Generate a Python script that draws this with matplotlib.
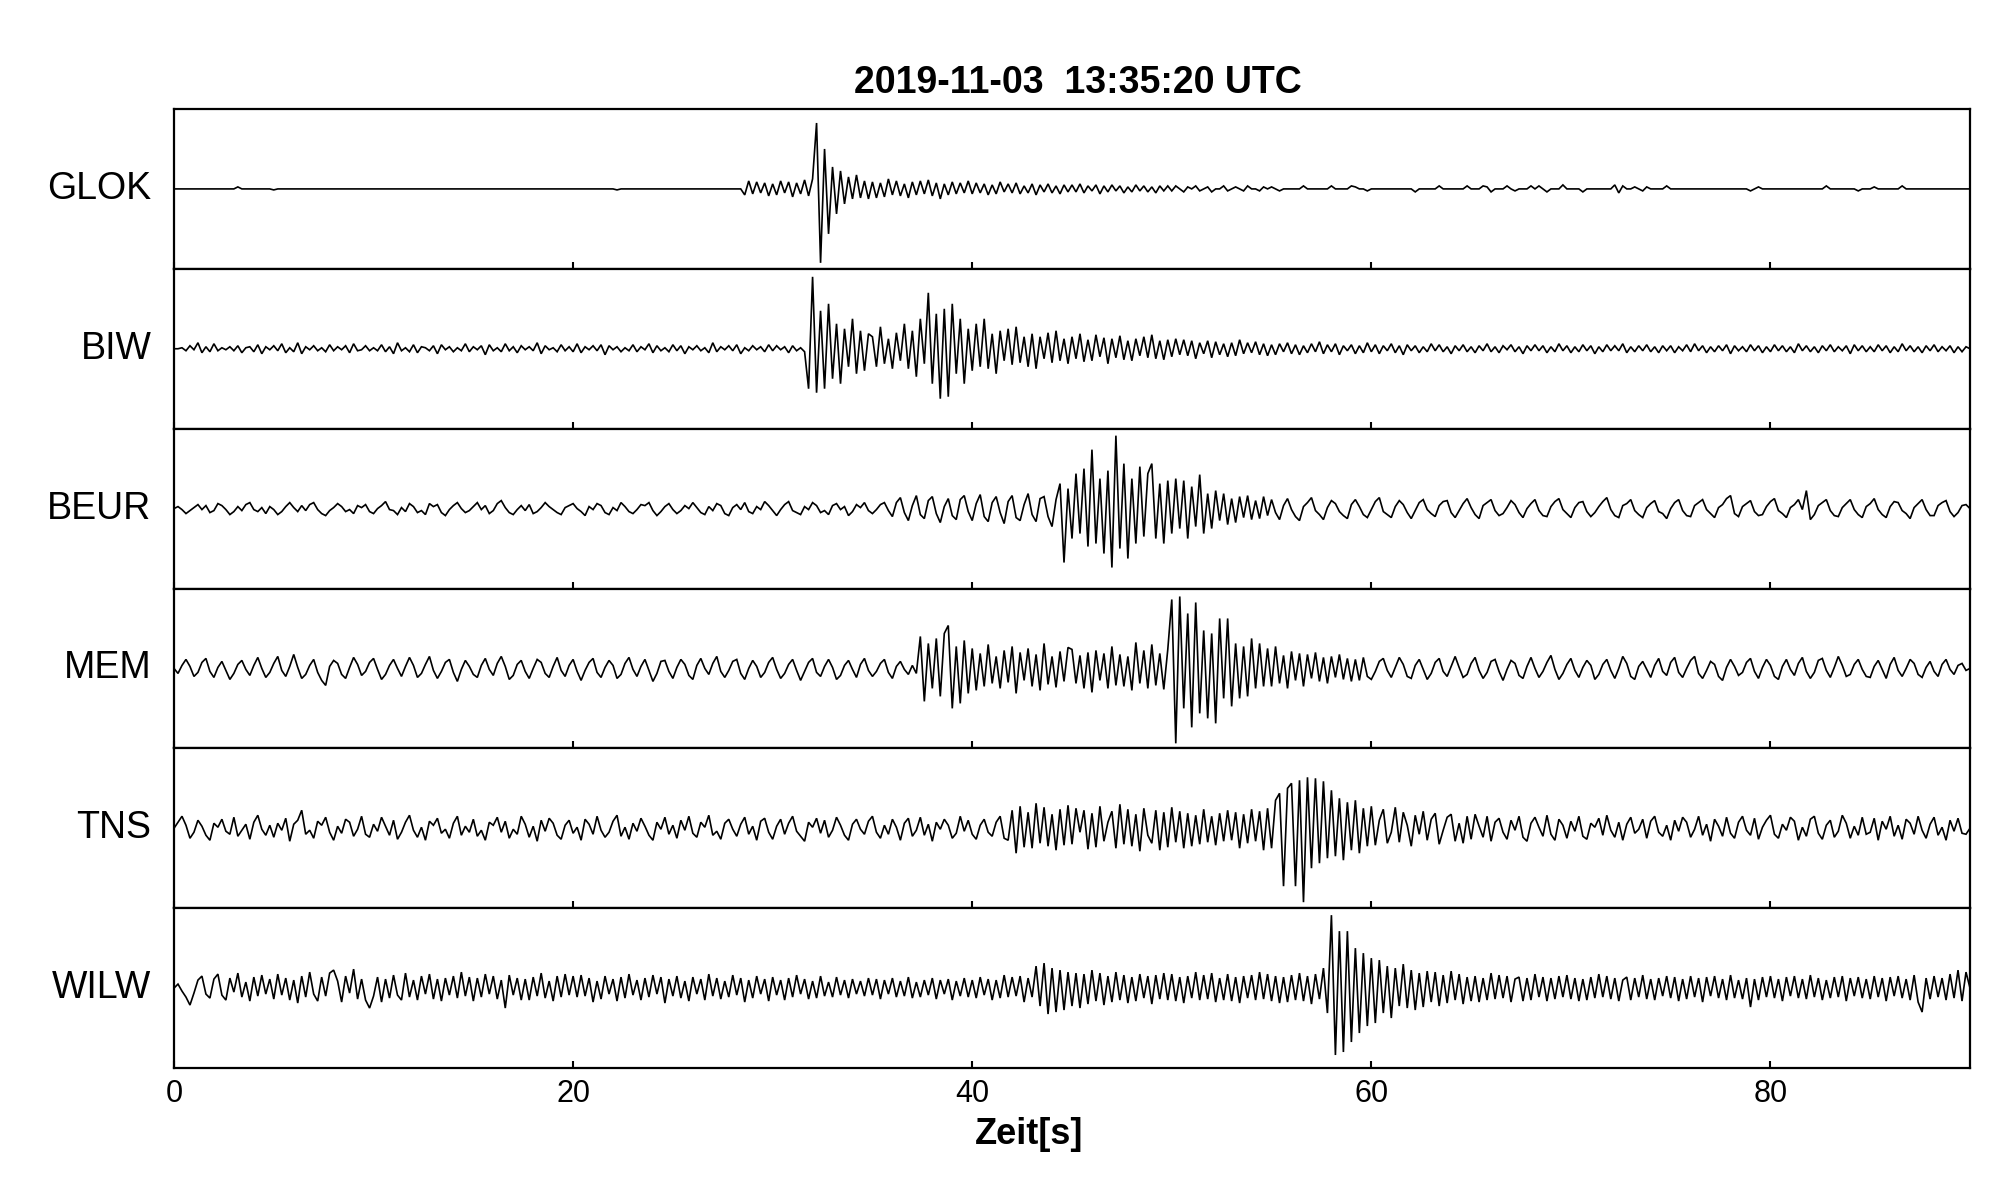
import numpy as np
import matplotlib
matplotlib.use("Agg")
import matplotlib.pyplot as plt

plt.rcParams['font.family'] = ['Liberation Sans', 'DejaVu Sans']

# ---------------- data (amplitudes, 5 samples/s) -------------
title = "2019-11-03  13:35:20 UTC"
xlabel = "Zeit[s]"
stations = ["GLOK", "BIW", "BEUR", "MEM", "TNS", "WILW"]
xticks = [0, 20, 40, 60, 80]
duration = 90.0

GLOK = [
    0,0,0,0,0,0,0,0,0,0,0,0,0,0,0,0,2,0,0,0,0,0,0,0,0,
    -1,0,0,0,0,0,0,0,0,0,0,0,0,0,0,0,0,0,0,0,0,0,0,0,0,
    0,0,0,0,0,0,0,0,0,0,0,0,0,0,0,0,0,0,0,0,0,0,0,0,0,
    0,0,0,0,0,0,0,0,0,0,0,0,0,0,0,0,0,0,0,0,0,0,0,0,0,
    0,0,0,0,0,0,0,0,0,0,0,-1,0,0,0,0,0,0,0,0,0,0,0,0,0,
    0,0,0,0,0,0,0,0,0,0,0,0,0,0,0,0,0,0,-6,8,-5,7,-4,6,-7,
    5,-6,8,-4,7,-8,6,-5,9,-7,10,66,-74,40,-45,22,-25,18,-15,12,-10,14,-9,8,-10,
    7,-9,6,-8,10,-6,8,-7,5,-9,7,-6,8,-5,9,-7,6,-10,5,-6,7,-5,6,-4,8,
    -5,6,-4,5,-6,4,-5,7,-3,5,-4,6,-5,3,-4,5,-6,4,-3,5,-4,3,-5,4,-3,
    4,-3,5,-4,3,-2,4,-5,3,-3,4,-2,3,-4,2,-3,4,-2,3,-3,2,-4,3,-2,3,
    -2,3,0,-3,2,0,3,-2,0,2,-3,0,0,3,-2,0,2,0,-2,3,0,0,-2,2,0,
    2,0,-2,0,0,0,0,0,3,0,0,0,0,0,0,3,0,0,0,0,3,2,0,0,-2,
    0,0,0,0,0,0,0,0,0,0,0,-3,0,0,0,0,0,3,0,0,0,0,0,0,3,
    0,0,0,3,2,-3,0,0,0,3,0,-2,0,0,0,3,0,3,0,-3,0,0,0,4,0,
    0,0,0,-3,0,0,0,0,0,0,0,4,-4,3,0,0,2,0,-2,2,0,0,0,0,3,
    0,0,0,0,0,0,0,0,0,0,0,0,0,0,0,0,0,0,0,0,-2,0,2,0,0,
    0,0,0,0,0,0,0,0,0,0,0,0,0,0,3,0,0,0,0,0,0,0,-2,0,0,
    0,2,0,0,0,0,0,0,3,0,0,0,0,0,0,0,0,0,0,0,0,0,0,0,0,
    0,
]

BIW = [
    0,0,1,-2,3,-1,6,-4,2,-3,5,-2,1,-1,2,-2,3,-4,1,2,-3,4,-5,2,-1,
    3,-2,5,-4,1,-3,6,-5,2,-1,3,-2,1,-3,4,-2,2,-1,3,-4,5,-2,-1,3,-2,
    1,-2,4,-3,2,-5,6,-2,1,-3,4,-4,2,1,-2,3,-5,4,-1,2,-3,1,-2,5,-3,
    2,-1,3,-6,4,-2,1,-3,5,-2,2,-4,3,-1,2,-2,6,-5,3,-1,1,-3,4,-2,2,
    -3,5,-4,2,-1,3,-2,4,-6,3,-1,2,-3,1,-2,4,-3,2,-1,5,-4,3,-2,1,-3,
    4,-2,3,-5,2,-1,3,-2,1,-4,6,-3,2,-1,3,-2,4,-5,1,-2,3,-1,2,-3,4,
    -2,3,-1,2,-4,3,-2,1,-3,-40,72,-44,38,-40,45,-30,25,-35,20,-18,30,-25,18,-22,15,
    12,-18,22,-15,10,-20,16,-12,25,-20,18,-28,30,-15,56,-35,35,-50,40,-48,45,-25,30,-35,20,
    -22,25,-18,30,-20,15,-25,18,-12,20,-16,22,-14,12,-18,15,-20,12,-10,16,-14,18,-12,10,-15,
    12,-10,15,-13,9,-12,14,-8,11,-15,10,-9,13,-11,8,-12,10,-7,12,-9,14,-10,8,-11,9,
    -8,10,-6,9,-7,8,-10,6,-5,8,-9,7,-6,5,-8,6,-7,9,-5,6,-4,7,-6,5,-7,
    4,-6,5,-3,6,-5,4,-6,3,-4,5,-3,7,-5,4,-3,5,-6,3,-2,4,-5,3,-4,6,
    -3,4,-5,3,-2,5,-4,3,-6,4,-2,3,-4,2,-3,5,-2,4,-3,2,-5,3,-2,4,-3,
    2,-4,3,-2,5,-3,2,-4,3,-1,4,-3,2,-5,3,-2,4,-2,3,-4,2,-3,5,-2,3,
    -4,2,-3,4,-2,3,-5,2,-3,4,-2,3,-2,5,-4,2,-3,3,-2,4,-3,2,-4,3,-2,
    3,-4,2,-2,4,-3,5,-2,3,-4,2,-3,3,-2,4,-5,3,-2,2,-3,4,-2,3,-4,2,
    -3,4,-2,3,-3,2,-4,5,-2,3,-3,2,-4,3,-2,4,-3,2,-2,3,-5,4,-2,3,-3,
    2,-3,4,-2,3,-4,2,-3,5,-2,3,-3,2,-4,3,-2,4,-3,2,-2,3,-4,2,-3,2,
    0,
]

BEUR = [
    0,2,-1,-5,-2,1,4,-1,3,-4,-2,5,3,-1,-6,-3,2,-2,4,6,-1,-3,1,-5,2,
    -1,-6,-3,2,6,1,-3,3,-2,4,6,-1,-5,-7,-2,1,5,2,-3,-1,-5,3,1,4,-3,
    -5,0,3,7,-1,-2,-6,1,-3,5,2,-4,-2,-6,5,2,4,-4,-7,-1,3,6,0,-4,-2,
    2,6,-1,3,-5,-2,5,8,1,-4,-6,-1,3,-2,4,-5,-3,1,6,2,-1,-4,-6,1,3,
    5,0,-3,-7,2,-1,5,3,-4,-6,1,-2,6,2,-3,-5,-1,4,3,6,-2,-7,-3,2,5,
    -1,-5,-2,3,0,6,1,-4,-6,2,-2,5,3,-5,-7,1,4,-1,6,-3,-5,2,-1,7,3,
    -2,-7,-1,4,7,-2,-4,-6,2,-1,6,3,-4,-2,-6,3,5,-1,2,-7,-3,4,1,6,-2,
    -5,-1,4,6,-2,-8,6,11,-4,-12,3,13,-6,-10,8,12,-5,-14,2,10,-7,-11,9,13,-3,
    -12,5,14,-8,-13,6,12,-4,-15,7,13,-9,-12,4,15,-6,-13,10,12,-8,-18,9,25,-54,20,
    -30,35,-25,40,-38,59,-35,30,-45,38,-59,73,-40,45,-50,30,-35,42,-28,35,45,-30,25,-35,28,
    -25,30,-20,28,-30,22,-18,34,-25,15,-20,18,-12,15,-16,10,-14,12,-9,13,-11,8,-10,12,-7,
    9,-4,-11,3,10,-1,-8,-12,2,6,11,-2,-6,-11,1,8,5,-3,-7,-10,4,9,2,-6,-9,
    -1,7,11,-3,-6,-9,2,8,4,-4,-10,-2,6,9,-1,-5,-8,3,7,8,-4,-9,-2,5,10,
    1,-6,-10,3,6,9,-2,-7,-5,1,8,4,-4,-9,0,5,9,-2,-7,-8,2,7,10,-1,-5,
    -9,1,6,7,-3,-8,-4,2,7,11,-1,-7,-9,3,5,9,-2,-6,-9,1,5,8,-3,-5,-10,
    0,6,9,-2,-7,-8,3,6,9,-1,-5,-9,1,4,10,13,-5,-8,2,5,8,-3,-7,-6,2,
    7,10,-2,-5,-9,1,4,9,-1,18,-11,-6,3,6,9,-2,-7,-8,1,5,9,-1,-6,-9,2,
    5,10,-1,-6,-9,2,7,6,-2,-5,-10,1,5,9,-1,-7,-7,3,6,8,-3,-8,-4,3,4,
    0,
]

MEM = [
    0,-5,3,9,2,-8,-4,6,10,-3,-9,1,7,-2,-11,-5,4,8,-1,-7,3,11,0,-9,-4,
    5,12,-2,-8,2,14,1,-10,-6,3,9,-4,-12,-17,2,8,5,-6,-10,1,11,4,-7,-3,6,
    10,-1,-11,-6,3,9,0,-8,2,11,3,-9,-5,4,12,-2,-10,-3,6,9,-4,-13,-1,8,2,
    -6,-9,3,10,-1,-7,5,12,2,-11,-7,4,8,-3,-10,0,9,6,-5,-9,2,11,-2,-8,3,
    9,-3,-12,-2,6,10,-4,-9,1,8,3,-10,-6,5,11,-1,-8,2,9,-2,-13,-5,7,8,-3,
    -10,1,9,4,-7,-11,3,10,0,-6,5,12,-3,-9,-2,7,9,-5,-11,0,8,2,-9,-4,6,
    11,-1,-10,-5,4,9,-2,-12,-3,6,10,-4,-8,2,9,1,-11,-7,3,8,-1,-9,4,10,-2,
    -8,-3,5,9,-4,-10,2,7,-1,-6,3,-5,32,-33,25,-20,30,-28,35,43,-40,22,-35,28,-25,
    20,-22,15,-18,24,-15,12,-20,18,-14,22,-25,16,-12,20,-18,14,-22,25,-16,12,-19,17,-13,21,
    19,-15,13,-20,16,-24,18,-12,15,-20,22,-17,14,-18,12,-22,26,-15,18,-20,24,-17,15,-21,19,
    69,-75,72,-40,55,-59,66,-45,38,-50,35,-55,50,-30,50,-38,25,-30,22,-28,30,-20,25,-18,20,
    -18,22,-15,13,-20,17,-12,15,-18,14,-10,16,-13,11,-15,12,-9,14,-11,10,-13,9,-12,11,-8,
    -11,-3,7,10,-2,-9,1,11,4,-8,-10,3,9,-1,-11,-5,6,10,-3,-8,2,12,1,-9,-6,
    5,11,-2,-10,-4,7,9,-3,-12,-1,8,5,-7,-10,2,11,0,-9,-3,6,13,-1,-11,-5,4,
    10,-2,-9,1,8,3,-11,-6,4,9,-2,-10,0,12,5,-8,-11,2,7,-1,-9,3,10,-3,-7,
    6,11,-4,-9,0,8,12,-5,-10,-2,7,4,-8,-12,1,9,2,-7,-4,6,10,-3,-10,1,9,
    3,-8,-11,2,9,-1,-7,5,11,-3,-10,-4,8,10,-2,-9,1,12,3,-8,-6,4,9,-1,-8,
    -9,2,8,-1,-10,4,11,-2,-8,0,9,5,-6,-9,1,7,-3,-8,4,9,-1,-6,3,5,-2,
    0,
]

TNS = [
    0,6,12,3,-10,-4,8,2,-7,-12,5,1,9,-3,-6,11,-8,-2,4,-11,6,13,-1,-7,3,
    -9,5,-2,10,-13,4,8,18,-6,-2,-10,7,3,11,-4,-12,2,-5,9,6,-8,-1,12,-6,-9,
    4,-3,11,2,-7,8,-11,-4,6,13,-2,-9,1,-12,7,3,10,-5,-1,-10,5,12,-7,2,-4,
    9,-8,-2,-12,6,3,11,-4,7,-10,-1,-6,12,4,-9,2,-13,8,-3,10,5,-7,-11,3,8,
    -5,1,-12,9,4,-6,12,-2,-9,-4,7,13,-8,1,-11,5,-3,10,2,-7,-12,6,-1,11,-6,
    3,-10,8,-2,12,-5,-9,6,1,13,-7,-3,-11,5,9,-1,-8,4,11,-6,2,-12,7,10,-4,
    -11,2,9,-6,5,12,-3,-8,-13,6,1,10,-5,8,-9,-2,11,3,-7,-12,4,9,-1,-6,7,
    12,-4,-10,3,-6,9,1,-12,5,10,-8,-2,11,-7,4,-13,6,-1,9,3,-10,-5,12,-3,8,
    -6,-11,3,9,-4,-8,6,12,-10,-12,18,-25,22,-19,16,-20,25,-15,21,-18,14,-22,19,-17,23,
    -16,20,-4,18,-21,15,-19,22,-13,6,17,-20,24,-16,19,-18,14,-23,20,-7,-15,18,-22,16,-19,
    21,-14,17,-20,15,-18,13,-16,19,-14,12,-17,15,-13,18,-12,16,-20,14,-15,19,-13,17,-22,20,
    -20,28,35,-58,40,45,-58,48,-74,51,-40,50,-35,47,-30,38,-28,30,-32,26,-22,28,-25,20,-18,
    22,-17,8,19,-15,-4,21,-14,16,3,-18,13,-6,17,-12,9,15,-16,-2,11,14,-13,5,-15,12,
    -11,14,2,-9,12,-13,6,10,-4,-11,8,-2,12,-9,-13,5,11,1,-8,13,-6,-12,9,3,-10,
    7,-3,12,-8,-11,5,1,10,-7,13,-2,-9,6,-12,4,11,-5,-1,9,-10,7,12,-4,-8,3,
    -12,8,-3,11,6,-9,-1,12,-7,4,-13,9,2,-8,11,-5,-10,6,12,-2,-7,10,-11,1,8,
    13,-6,-10,4,-2,11,7,-12,1,-8,9,12,-5,-11,3,8,-9,-3,13,5,-10,2,-7,11,-6,
    -4,10,-12,7,-1,12,-8,3,-11,9,5,-6,12,-2,-10,4,11,-7,1,-12,8,-3,10,-5,-6,
    0,
]

WILW = [
    0,4,-3,-9,-17,-5,8,12,-6,-10,9,14,-7,-12,10,-4,15,-9,6,-13,11,-8,13,-6,9,
    -11,14,-7,10,-12,8,-15,12,-9,16,-6,-13,11,-8,15,18,7,-14,12,-5,19,-11,9,-12,-20,
    -8,11,-14,9,-10,13,-7,-12,15,-9,8,-12,12,-6,14,-11,9,-13,10,-7,12,-10,16,-8,11,
    -13,10,-9,14,-6,12,-11,8,-20,13,-7,10,-12,9,-12,11,-8,15,-10,7,-13,12,-9,14,-7,
    12,-9,13,-8,10,-14,7,-11,12,-6,9,-13,11,-10,14,-7,8,-12,10,-9,13,-6,11,-15,9,
    -8,12,-10,7,-13,11,-6,9,-12,14,-8,10,-11,7,-9,13,-7,10,-14,8,-10,12,-6,9,-13,
    11,-7,8,-12,10,-9,13,-6,9,-11,7,-10,12,-8,6,-9,11,-7,8,-10,9,-6,7,-8,10,
    -7,9,-11,8,-6,10,-9,7,-8,11,-10,6,-9,8,-7,10,-11,8,-6,9,-12,7,-8,10,-9,
    8,-10,11,-7,9,-12,8,-10,13,-9,11,-8,12,-14,10,-9,22,-18,25,-26,20,-24,18,-22,16,
    -18,15,-20,14,-16,18,-13,15,-17,12,-14,16,-12,13,-15,11,-13,14,-10,12,-16,13,-11,15,-12,
    14,-13,11,-15,12,-10,16,-12,13,-11,15,-14,10,-12,14,-13,11,-15,12,-10,13,-12,16,-11,14,
    -13,12,-15,11,-14,13,-12,15,-13,12,-16,14,-11,20,-25,73,-67,57,-64,57,-54,40,-45,35,-38,
    30,-35,28,-25,22,-30,20,-18,24,-20,18,-22,15,-19,17,-14,16,-18,13,-15,17,-12,14,-16,11,
    -13,12,-14,10,-12,15,-11,13,-10,12,-14,9,11,-13,10,-12,14,-9,11,-13,10,-11,12,-9,13,
    -11,10,-13,9,-12,11,-10,14,-9,12,-11,10,-13,8,11,-12,10,-9,13,-11,9,-12,10,-8,12,
    -10,11,-13,9,-11,12,-9,10,-14,11,-8,12,-10,9,-12,13,-10,8,-11,10,-19,9,-12,11,-9,
    12,-10,9,-13,11,-8,12,-10,9,-11,13,-9,10,-12,8,-10,11,-9,12,-13,10,-8,11,-10,9,
    -11,12,-9,10,-13,11,-8,12,-10,9,-12,13,-14,-24,10,-11,12,-9,10,-12,14,-10,18,-13,16,
    0,
]

traces = [GLOK, BIW, BEUR, MEM, TNS, WILW]

# ---------------- figure ----------------
W, H = 2005, 1202
fig = plt.figure(figsize=(W / 100, H / 100), dpi=100)
ax_left, ax_right, ax_top, ax_bottom = 174, 1970, 109, 1068
gs = fig.add_gridspec(len(stations), 1,
                      left=ax_left / W, right=ax_right / W,
                      top=1 - ax_top / H, bottom=1 - ax_bottom / H, hspace=0)

axes = []
for i, (name, vals) in enumerate(zip(stations, traces)):
    ax = fig.add_subplot(gs[i])
    y = np.asarray(vals, dtype=float)
    t = np.linspace(0.0, duration, len(y))
    ax.plot(t, y, color='black', lw=1.2, solid_joinstyle='miter')
    ax.set_xlim(0, duration)
    ax.set_ylim(-80, 80)
    ax.set_yticks([])
    ax.set_xticks(xticks)
    ax.tick_params(axis='x', direction='in', length=5, width=1.5,
                   labelsize=22, pad=8, labelbottom=(i == len(stations) - 1),
                   top=False, bottom=True)
    for sp in ax.spines.values():
        sp.set_linewidth(1.6)
        sp.set_color('black')
    ax.text(-0.0125, 0.5, name, transform=ax.transAxes, ha='right',
            va='center', fontsize=27)
    axes.append(ax)

fig.text(1078 / W, 1 - 83 / H, title, ha='center', va='center',
         fontsize=27, fontweight='bold')
fig.text(1029 / W, 1 - 1135 / H, xlabel, ha='center', va='center',
         fontsize=26, fontweight='bold')

fig.savefig('out.png', dpi=100)
